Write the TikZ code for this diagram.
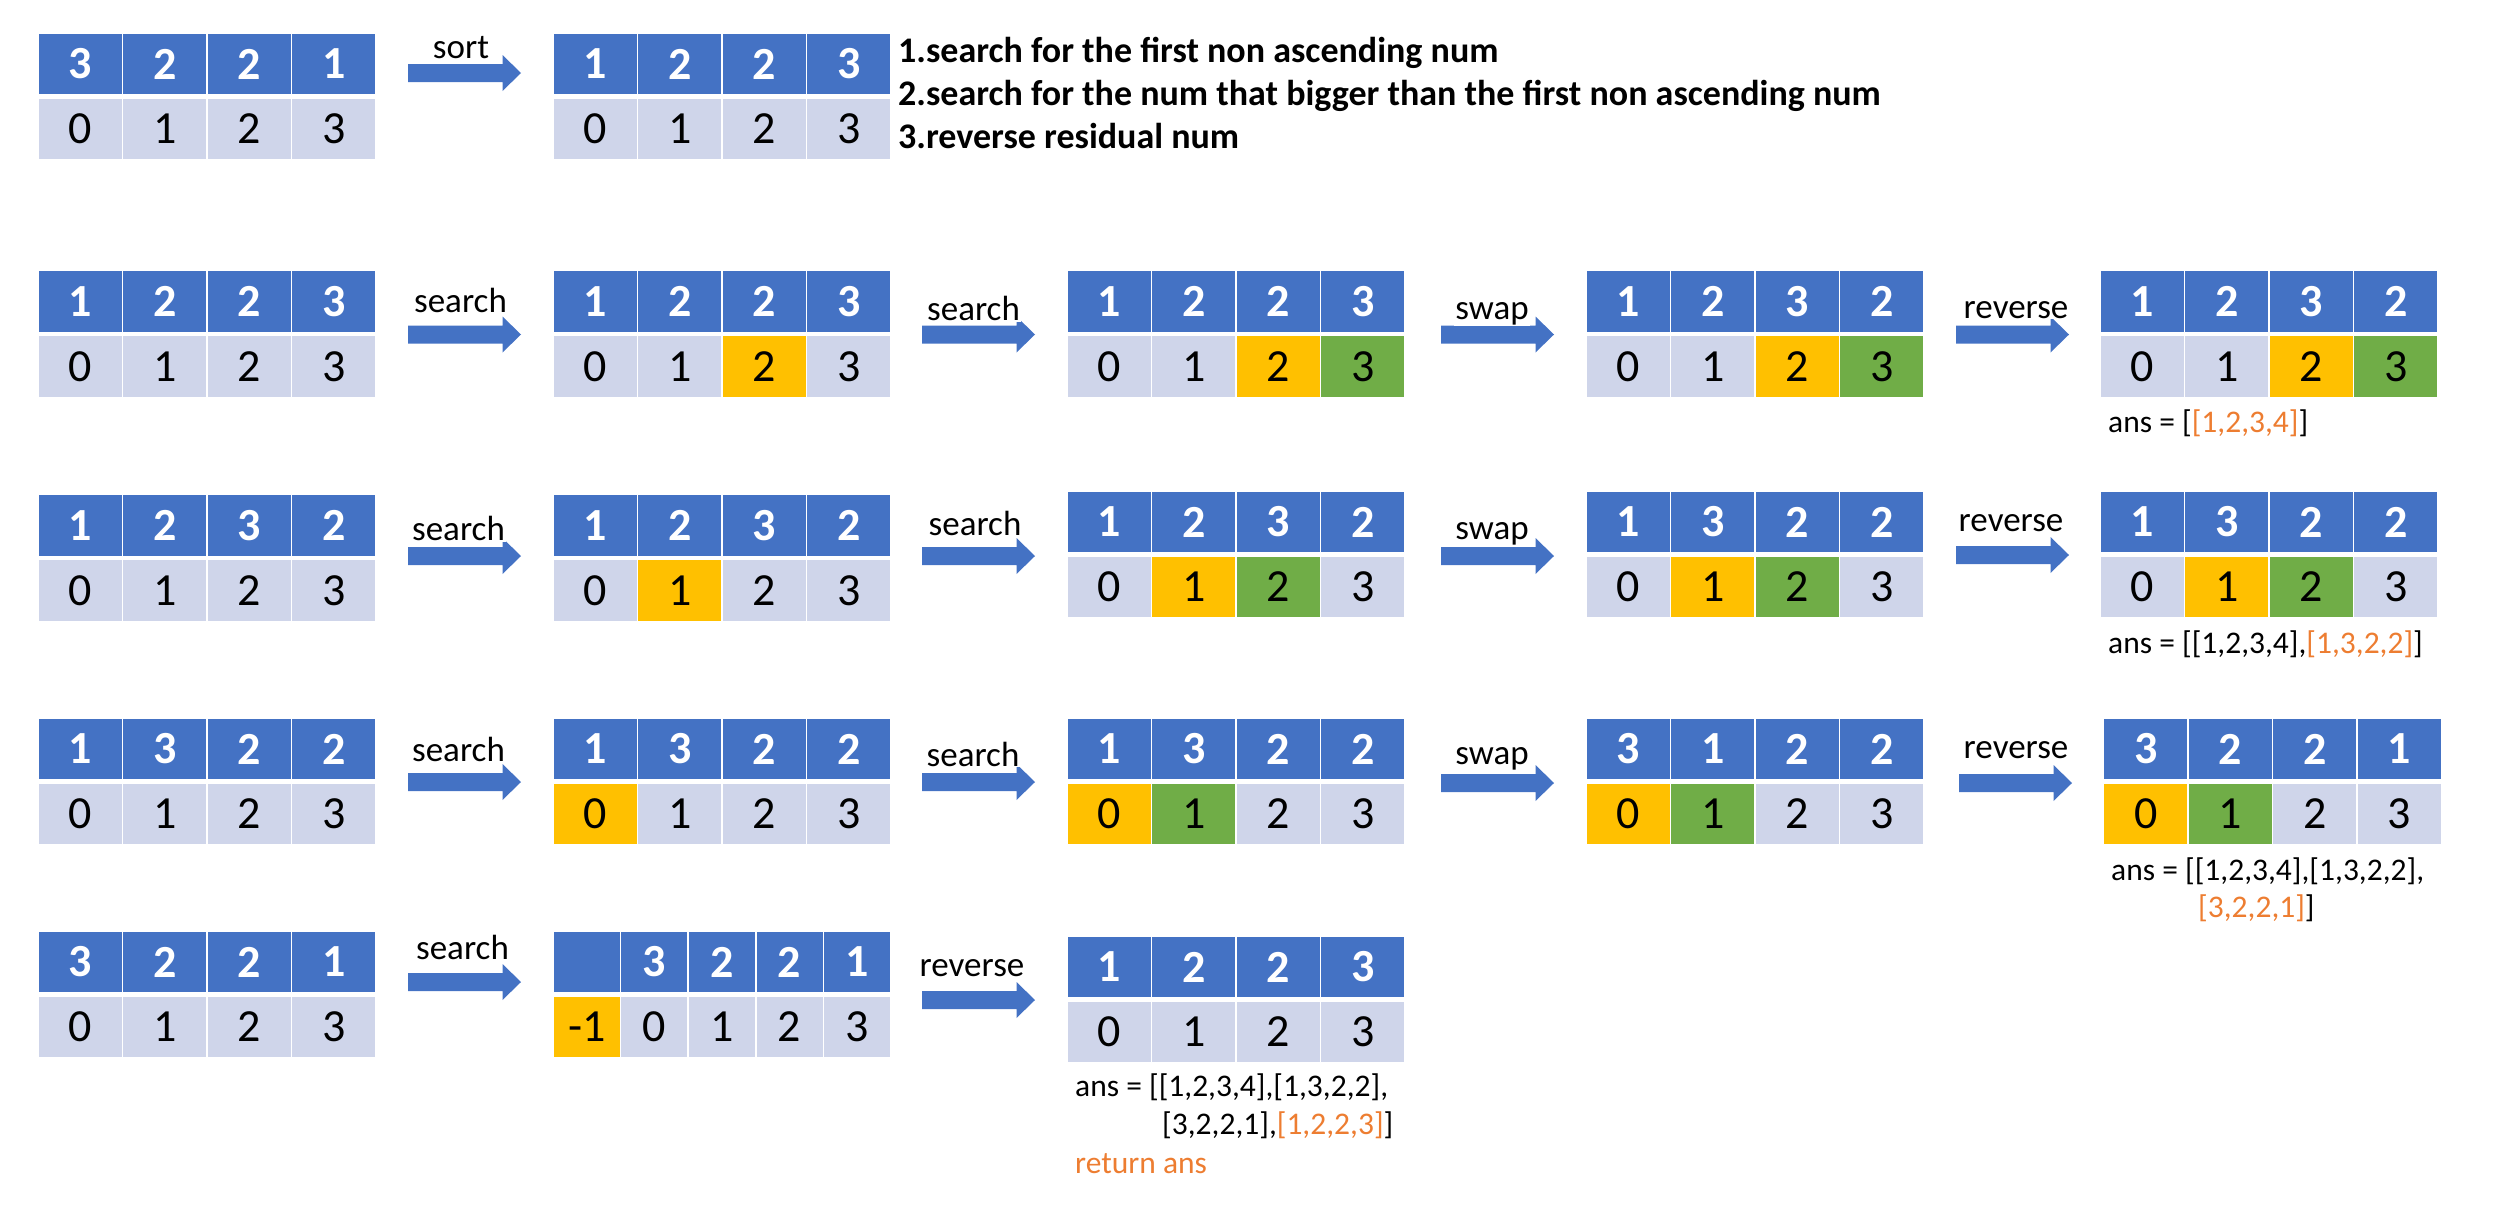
\documentclass[tikz,border=0pt]{standalone}
\usepackage{fontspec}
\setmainfont{Carlito}
\definecolor{hblue}{HTML}{4472C4}
\definecolor{igray}{HTML}{CFD5EA}
\definecolor{iorange}{HTML}{FFC000}
\definecolor{igreen}{HTML}{70AD47}
\definecolor{torange}{HTML}{ED7D31}
\tikzset{
  hcell/.style={draw=white, line width=1.5pt, fill=hblue, text=white,
    font=\fontsize{46}{50}\selectfont\bfseries, minimum height=62pt, inner sep=0pt},
  icell/.style={draw=white, line width=1.5pt, text=black,
    font=\fontsize{46}{50}\selectfont, minimum height=62pt, inner sep=0pt},
  lbl/.style={anchor=base, font=\fontsize{35}{40}\selectfont, fill=white, inner sep=1pt},
  anstxt/.style={anchor=base west, font=\fontsize{31.5}{36}\selectfont, inner sep=0pt},
  steptxt/.style={anchor=base west, font=\fontsize{36}{40}\selectfont\bfseries, inner sep=0pt},
  blockarrow/.style={fill=hblue},
}
% name, x left, y top, cell width, headers, index/colour
\newcommand{\mktable}[6]{%
  \foreach \v [count=\i from 0] in {#5} {
    \node[hcell, minimum width=#4pt] (#1h\i) at ({#2+#4/2+#4*\i}, {#3+31}) {\v};
  }
  \foreach \v/\c [count=\i from 0] in {#6} {
    \node[icell, minimum width=#4pt, fill=\c] (#1i\i) at ({#2+#4/2+#4*\i}, {#3+96}) {\v};
  }
}
% name, x left, y centre
\newcommand{\mkarrow}[3]{%
  \coordinate (#1) at (#2,#3);
  \fill[blockarrow] (#1) ++(0,-9) -- ++(94.5,0) -- ++(0,-9) -- ++(18.5,18)
     -- ++(-18.5,18) -- ++(0,-9) -- ++(-94.5,0) -- cycle;
}
\begin{document}
\begin{tikzpicture}[x=1pt, y=-1pt]
\useasboundingbox (0,0) rectangle (2495,1205);

% ---------- row 0
\mktable{ta}{38}{33}{84.5}{3,2,2,1}{0/igray,1/igray,2/igray,3/igray}
\mktable{tb}{553}{33}{84.5}{1,2,2,3}{0/igray,1/igray,2/igray,3/igray}
\mkarrow{a0}{408}{73}
\node[lbl] (l0) at (461,58) {sort};
\node[steptxt] (s1) at (898,62.5) {1.search for the first non ascending num};
\node[steptxt] (s2) at (898,105.8) {2.search for the num that bigger than the first non ascending num};
\node[steptxt] (s3) at (898,148.7) {3.reverse residual num};

% ---------- row 1
\mktable{ra}{38}{270.5}{84.5}{1,2,2,3}{0/igray,1/igray,2/igray,3/igray}
\mktable{rb}{553}{270.5}{84.5}{1,2,2,3}{0/igray,1/igray,2/iorange,3/igray}
\mktable{rc}{1067}{270.5}{84.5}{1,2,2,3}{0/igray,1/igray,2/iorange,3/igreen}
\mktable{rd}{1586}{270.5}{84.5}{1,2,3,2}{0/igray,1/igray,2/iorange,3/igreen}
\mktable{re}{2100}{270.5}{84.5}{1,2,3,2}{0/igray,1/igray,2/iorange,3/igreen}
\mkarrow{a11}{408}{334.5}
\mkarrow{a12}{922}{334.5}
\mkarrow{a13}{1441}{334.5}
\mkarrow{a14}{1956}{334.5}
\node[lbl] (l11) at (460.5,312) {search};
\node[lbl] (l12) at (973.5,320.5) {search};
\node[lbl] (l13) at (1492,319.6) {swap};
\node[lbl] (l14) at (2016,318) {reverse};
\node[anstxt] (ans1) at (2108,432) {ans = [\textcolor{torange}{[1,2,3,4]}]};

% ---------- row 2
\mktable{sa}{38}{494.5}{84.5}{1,2,3,2}{0/igray,1/igray,2/igray,3/igray}
\mktable{sb}{553}{494.5}{84.5}{1,2,3,2}{0/igray,1/iorange,2/igray,3/igray}
\mktable{sc}{1067}{491}{84.5}{1,2,3,2}{0/igray,1/iorange,2/igreen,3/igray}
\mktable{sd}{1586}{491}{84.5}{1,3,2,2}{0/igray,1/iorange,2/igreen,3/igray}
\mktable{se}{2100}{491}{84.5}{1,3,2,2}{0/igray,1/iorange,2/igreen,3/igray}
\mkarrow{a21}{408}{556}
\mkarrow{a22}{922}{556}
\mkarrow{a23}{1441}{556}
\mkarrow{a24}{1956}{555}
\node[lbl] (l21) at (458.5,540.7) {search};
\node[lbl] (l22) at (975,535.7) {search};
\node[lbl] (l23) at (1492,539) {swap};
\node[lbl] (l24) at (2011,531.7) {reverse};
\node[anstxt] (ans2) at (2108,653) {ans = [[1,2,3,4],\textcolor{torange}{[1,3,2,2]}]};

% ---------- row 3
\mktable{ua}{38}{718}{84.5}{1,3,2,2}{0/igray,1/igray,2/igray,3/igray}
\mktable{ub}{553}{718}{84.5}{1,3,2,2}{0/iorange,1/igray,2/igray,3/igray}
\mktable{uc}{1067}{718}{84.5}{1,3,2,2}{0/iorange,1/igreen,2/igray,3/igray}
\mktable{ud}{1586}{718}{84.5}{3,1,2,2}{0/iorange,1/igreen,2/igray,3/igray}
\mktable{ue}{2103.5}{718}{84.5}{3,2,2,1}{0/iorange,1/igreen,2/igray,3/igray}
\mkarrow{a31}{408}{782}
\mkarrow{a32}{922}{782}
\mkarrow{a33}{1441}{783}
\mkarrow{a34}{1959}{783}
\node[lbl] (l31) at (458.5,761.7) {search};
\node[lbl] (l32) at (973,766) {search};
\node[lbl] (l33) at (1492,764.7) {swap};
\node[lbl] (l34) at (2016,758) {reverse};
\node[anstxt] (ans3a) at (2111,880) {ans = [[1,2,3,4],[1,3,2,2],};
\node[anstxt] (ans3b) at (2198,917) {\textcolor{torange}{[3,2,2,1]}]};

% ---------- row 4
\mktable{va}{38}{931}{84.5}{3,2,2,1}{0/igray,1/igray,2/igray,3/igray}
\mktable{vb}{553}{931}{67.6}{{},3,2,2,1}{-1/iorange,0/igray,1/igray,2/igray,3/igray}
\mktable{vc}{1067}{936}{84.5}{1,2,2,3}{0/igray,1/igray,2/igray,3/igray}
\mkarrow{a41}{408}{982}
\mkarrow{a42}{922}{1000}
\node[lbl] (l41) at (462.5,959.5) {search};
\node[lbl] (l42) at (972,976) {reverse};
\node[anstxt] (ans4a) at (1075,1096.5) {ans = [[1,2,3,4],[1,3,2,2],};
\node[anstxt] (ans4b) at (1162,1134.5) {[3,2,2,1],\textcolor{torange}{[1,2,2,3]}]};
\node[anstxt, text=torange] (ans4c) at (1075,1173) {return ans};
\end{tikzpicture}
\end{document}
